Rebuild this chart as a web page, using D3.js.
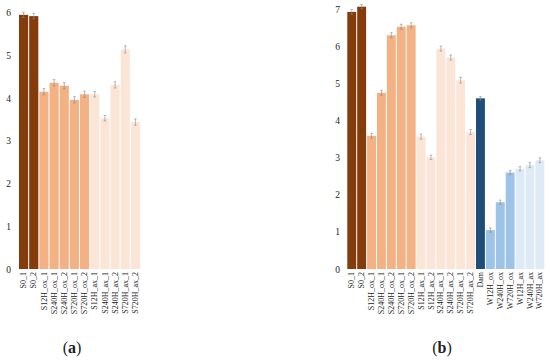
<!DOCTYPE html>
<html>
<head>
<meta charset="utf-8">
<script src="https://cdn.jsdelivr.net/npm/d3@7"></script>
<style>
  body { margin: 0; background: #fff; }
  text { font-family: "Liberation Serif", "Times New Roman", serif; fill: #222; }
</style>
</head>
<body>
<script>
const width = 550;
const height = 360;

// panel (a)
const catsA = ["S0_1", "S0_2", "S12H_ox_1", "S240H_ox_1", "S240H_ox_2", "S720H_ox_1", "S720H_ox_2",
  "S12H_ax_1", "S240H_ax_1", "S240H_ax_2", "S720H_ax_1", "S720H_ax_2"];
const valsA = [5.95, 5.92, 4.15, 4.36, 4.29, 3.96, 4.09, 4.09, 3.53, 4.31, 5.14, 3.44];
const errsA = [0.04, 0.04, 0.05, 0.05, 0.05, 0.05, 0.05, 0.04, 0.04, 0.05, 0.06, 0.05];
const grpA = [0, 0, 1, 1, 1, 1, 1, 2, 2, 2, 2, 2];
const ticksA = [0, 1, 2, 3, 4, 5, 6];

// panel (b)
const catsB = ["S0_1", "S0_2", "S12H_ox_1", "S240H_ox_1", "S240H_ox_2", "S720H_ox_1", "S720H_ox_2",
  "S12H_ax_1", "S12H_ax_2", "S240H_ax_1", "S240H_ax_2", "S720H_ax_1", "S720H_ax_2",
  "Dam", "W12H_ox", "W240H_ox", "W720H_ox", "W12H_ax", "W240H_ax", "W720H_ax"];
const valsB = [6.93, 7.07, 3.59, 4.75, 6.30, 6.53, 6.57, 3.57, 3.01, 5.94, 5.70, 5.09, 3.69,
  4.60, 1.05, 1.80, 2.60, 2.70, 2.80, 2.93];
const errsB = [0.04, 0.03, 0.04, 0.04, 0.04, 0.04, 0.04, 0.04, 0.03, 0.04, 0.04, 0.05, 0.04,
  0.02, 0.03, 0.03, 0.03, 0.03, 0.04, 0.04];
const grpB = [0, 0, 1, 1, 1, 1, 1, 2, 2, 2, 2, 2, 2, 3, 4, 4, 4, 5, 5, 5];
const ticksB = [0, 1, 2, 3, 4, 5, 6, 7];

const colors = ["#843c0c", "#f4b183", "#fbe5d6", "#1f4e79", "#9dc3e6", "#deebf7"];

const svg = d3.select("body").append("svg")
  .attr("width", width)
  .attr("height", height);

function panel(cats, vals, errs, grp, ticks, xRange, yTop, axisX, caption, capX) {
  const x = d3.scaleBand()
    .domain(cats)
    .range(xRange)
    .paddingInner(0.1)
    .paddingOuter(0.05);

  const y = d3.scaleLinear()
    .domain([0, d3.max(ticks)])
    .range([269, yTop]);

  const data = cats.map((c, i) => ({ c: c, v: vals[i], e: errs[i], g: grp[i] }));

  // y labels only, no line or ticks
  const ax = svg.append("g")
    .attr("transform", "translate(" + axisX + ",0)")
    .attr("font-family", "'Liberation Serif', serif")
    .call(d3.axisLeft(y).tickValues(ticks).tickSize(0).tickPadding(0).tickFormat(d3.format("d")));
  ax.select(".domain").remove();
  ax.selectAll("text")
    .style("font-family", "'Liberation Serif', serif")
    .style("font-size", "9.5px")
    .attr("fill", "#222");

  svg.append("g").selectAll("rect")
    .data(data)
    .enter()
    .append("rect")
    .attr("x", d => x(d.c))
    .attr("y", d => y(d.v))
    .attr("width", x.bandwidth())
    .attr("height", d => y(0) - y(d.v))
    .attr("fill", d => colors[d.g]);

  // error bars
  const eb = svg.append("g")
    .attr("stroke", "#8a8a8a")
    .attr("stroke-width", 0.6);
  data.forEach(d => {
    const cx = x(d.c) + x.bandwidth() / 2;
    eb.append("line").attr("x1", cx).attr("x2", cx)
      .attr("y1", y(d.v + d.e) - 1).attr("y2", y(d.v - d.e) + 1);
    eb.append("line").attr("x1", cx - 1.3).attr("x2", cx + 1.3)
      .attr("y1", y(d.v + d.e) - 1).attr("y2", y(d.v + d.e) - 1);
    eb.append("line").attr("x1", cx - 1.3).attr("x2", cx + 1.3)
      .attr("y1", y(d.v - d.e) + 1).attr("y2", y(d.v - d.e) + 1);
  });

  // category labels
  svg.append("g").selectAll("text")
    .data(data)
    .enter()
    .append("text")
    .attr("transform", d => "translate(" + (x(d.c) + x.bandwidth() / 2) + ",272) rotate(-90)")
    .attr("text-anchor", "end")
    .attr("dy", "0.33em")
    .style("font-size", "8px")
    .text(d => d.c);

  const cap = svg.append("text")
    .attr("x", capX)
    .attr("y", 353)
    .attr("text-anchor", "middle")
    .style("font-size", "16px");
  cap.append("tspan").text("(");
  cap.append("tspan").style("font-weight", "bold").text(caption);
  cap.append("tspan").text(")");
}

panel(catsA, valsA, errsA, grpA, ticksA, [18.5, 140.5], 12.7, 11, "a", 72);
panel(catsB, valsB, errsB, grpB, ticksB, [346.8, 544.8], 9.3, 340, "b", 442);
</script>
</body>
</html>
